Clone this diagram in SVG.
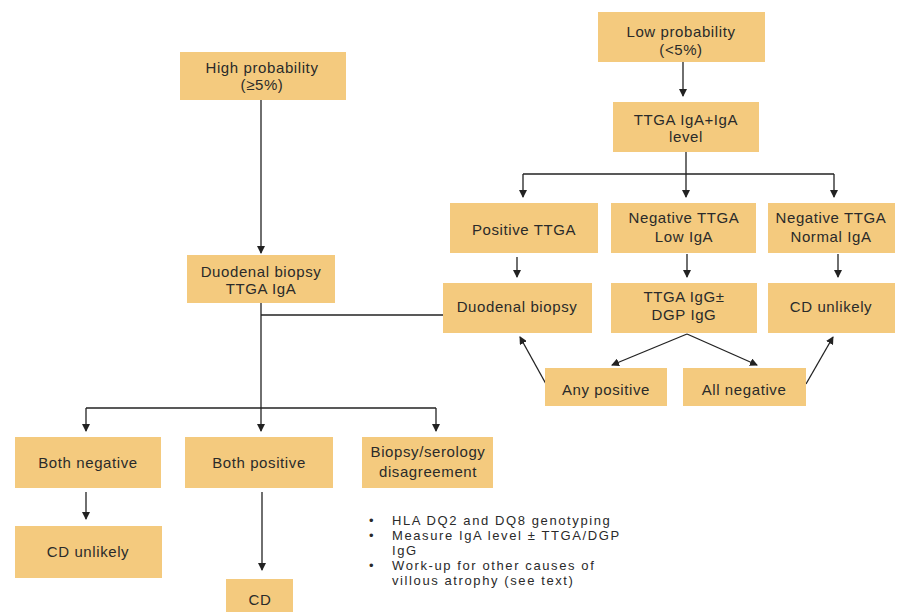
<svg xmlns="http://www.w3.org/2000/svg" width="904" height="612" viewBox="0 0 904 612">
<style>
.box{fill:#F4CA7E;}
.t{font-family:"Liberation Sans",Arial,sans-serif;font-size:15px;letter-spacing:0.6px;fill:#2a2a2a;text-anchor:middle;}
.b{font-family:"Liberation Sans",Arial,sans-serif;font-size:13px;letter-spacing:1.6px;fill:#2a2a2a;}
.c{stroke:#222;stroke-width:1.3;fill:none;}
</style>
<defs>
<marker id="ah" markerWidth="8" markerHeight="8" refX="7" refY="4" orient="auto" markerUnits="userSpaceOnUse">
<path d="M0,0 L8,4 L0,8 z" fill="#222"/>
</marker>
</defs>
<rect width="904" height="612" fill="#fff"/>
<g id="connectors">
<line class="c" x1="261" y1="100" x2="261" y2="253" marker-end="url(#ah)"/>
<line class="c" x1="683" y1="62" x2="683" y2="96" marker-end="url(#ah)"/>
<line class="c" x1="686" y1="152" x2="686" y2="174"/>
<line class="c" x1="523" y1="174" x2="834" y2="174"/>
<line class="c" x1="523" y1="174" x2="523" y2="197" marker-end="url(#ah)"/>
<line class="c" x1="686" y1="174" x2="686" y2="197" marker-end="url(#ah)"/>
<line class="c" x1="834" y1="174" x2="834" y2="197" marker-end="url(#ah)"/>
<line class="c" x1="517" y1="257" x2="517" y2="277" marker-end="url(#ah)"/>
<line class="c" x1="687" y1="254" x2="687" y2="277" marker-end="url(#ah)"/>
<line class="c" x1="838" y1="254" x2="838" y2="277" marker-end="url(#ah)"/>
<line class="c" x1="687" y1="334" x2="612" y2="365" marker-end="url(#ah)"/>
<line class="c" x1="687" y1="334" x2="757" y2="365" marker-end="url(#ah)"/>
<line class="c" x1="546" y1="384" x2="520" y2="337" marker-end="url(#ah)"/>
<line class="c" x1="806" y1="384" x2="833" y2="337" marker-end="url(#ah)"/>
<line class="c" x1="261" y1="303" x2="261" y2="431" marker-end="url(#ah)"/>
<line class="c" x1="261" y1="315" x2="443" y2="315"/>
<line class="c" x1="86" y1="408" x2="436" y2="408"/>
<line class="c" x1="86" y1="408" x2="86" y2="431" marker-end="url(#ah)"/>
<line class="c" x1="436" y1="408" x2="436" y2="431" marker-end="url(#ah)"/>
<line class="c" x1="86" y1="492" x2="86" y2="519" marker-end="url(#ah)"/>
<line class="c" x1="262" y1="492" x2="262" y2="570" marker-end="url(#ah)"/>
</g>
<g id="high">
<rect class="box" x="180" y="52" width="166" height="48"/>
<text class="t" x="262" y="73">High probability</text>
<text class="t" x="262" y="90">(≥5%)</text>
</g>
<g id="low">
<rect class="box" x="598" y="12" width="167" height="50"/>
<text class="t" x="681" y="37">Low probability</text>
<text class="t" x="681" y="55">(&lt;5%)</text>
</g>
<g id="ttga-iga">
<rect class="box" x="613" y="102" width="146" height="50"/>
<text class="t" x="686" y="125">TTGA IgA+IgA</text>
<text class="t" x="686" y="142">level</text>
</g>
<g id="pos-ttga">
<rect class="box" x="450" y="203" width="148" height="50"/>
<text class="t" x="524" y="235">Positive TTGA</text>
</g>
<g id="neg-low">
<rect class="box" x="611" y="203" width="145" height="50"/>
<text class="t" x="684" y="223">Negative TTGA</text>
<text class="t" x="684" y="242">Low IgA</text>
</g>
<g id="neg-normal">
<rect class="box" x="768" y="203" width="127" height="50"/>
<text class="t" x="831" y="223">Negative TTGA</text>
<text class="t" x="831" y="242">Normal IgA</text>
</g>
<g id="duod-right">
<rect class="box" x="443" y="283" width="149" height="50"/>
<text class="t" x="517" y="312">Duodenal biopsy</text>
</g>
<g id="ttga-igg">
<rect class="box" x="611" y="283" width="146" height="50"/>
<text class="t" x="684" y="302">TTGA IgG±</text>
<text class="t" x="684" y="320">DGP IgG</text>
</g>
<g id="cd-unlikely-right">
<rect class="box" x="768" y="283" width="127" height="50"/>
<text class="t" x="831" y="312">CD unlikely</text>
</g>
<g id="any-positive">
<rect class="box" x="545" y="368" width="122" height="38"/>
<text class="t" x="606" y="395">Any positive</text>
</g>
<g id="all-negative">
<rect class="box" x="683" y="368" width="123" height="38"/>
<text class="t" x="744" y="395">All negative</text>
</g>
<g id="duod-left">
<rect class="box" x="187" y="255" width="148" height="48"/>
<text class="t" x="261" y="277">Duodenal biopsy</text>
<text class="t" x="261" y="294">TTGA IgA</text>
</g>
<g id="both-neg">
<rect class="box" x="15" y="437" width="146" height="51"/>
<text class="t" x="88" y="468">Both negative</text>
</g>
<g id="both-pos">
<rect class="box" x="185" y="437" width="148" height="51"/>
<text class="t" x="259" y="468">Both positive</text>
</g>
<g id="disagree">
<rect class="box" x="362" y="437" width="131" height="51"/>
<text class="t" x="428" y="457">Biopsy/serology</text>
<text class="t" x="428" y="477">disagreement</text>
</g>
<g id="cd-unlikely-left">
<rect class="box" x="15" y="526" width="147" height="52"/>
<text class="t" x="88" y="557">CD unlikely</text>
</g>
<g id="cd">
<rect class="box" x="226" y="579" width="67" height="33"/>
<text class="t" x="260" y="605">CD</text>
</g>
<g id="notes">
<text class="b" x="369" y="525">•</text>
<text class="b" x="392" y="525">HLA DQ2 and DQ8 genotyping</text>
<text class="b" x="369" y="540">•</text>
<text class="b" x="392" y="540">Measure IgA level ± TTGA/DGP</text>
<text class="b" x="392" y="555">IgG</text>
<text class="b" x="369" y="570">•</text>
<text class="b" x="392" y="570">Work-up for other causes of</text>
<text class="b" x="392" y="585">villous atrophy (see text)</text>
</g>
</svg>
